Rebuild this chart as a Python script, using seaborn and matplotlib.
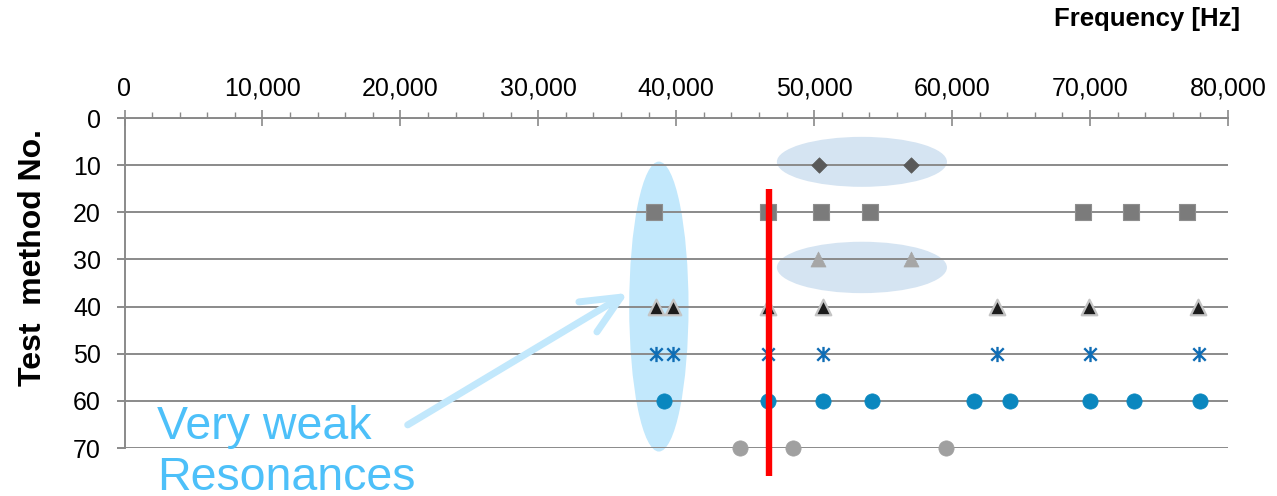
import numpy as np
import pandas as pd
import matplotlib
matplotlib.use("Agg")
import matplotlib.pyplot as plt
from matplotlib.patches import Ellipse
from matplotlib.path import Path
import seaborn as sns

# ---- data: resonance frequencies [Hz] found by each test method ----
method_10 = [50360, 57010]
method_20 = [38400, 46640, 50510, 54020, 69510, 72990, 77010]
method_30 = [50290, 57010]
method_40 = [38540, 39750, 46640, 50630, 63270, 69940, 77820]
method_50 = [38540, 39750, 46660, 50630, 63270, 70010, 77920]
method_60 = [39120, 46660, 50630, 54180, 61600, 64180, 69980, 73210, 77990]
method_70 = [44630, 48480, 59550]

method_ids = [10, 20, 30, 40, 50, 60, 70]
x_ticks = [0, 10000, 20000, 30000, 40000, 50000, 60000, 70000, 80000]
y_ticks = [0, 10, 20, 30, 40, 50, 60, 70]

# reference frequency marker
ref_freq = 46700
ref_span = [15, 76]

# highlighted groups: (center freq, center method, width Hz, height)
weak_group = (38740, 40.0, 4300, 61.5)
pair_groups = [(53460, 9.3, 12330, 10.6), (53460, 31.7, 12330, 10.9)]

# arrow from annotation toward the weak group
arrow_start = (20530, 65.1)
arrow_end = (36500, 37.1)
note_pos = (2360, 78.9)

rows = []
for mid, vals in zip(method_ids, [method_10, method_20, method_30, method_40,
                                  method_50, method_60, method_70]):
    for v in vals:
        rows.append({"method": mid, "freq": v})
df = pd.DataFrame(rows)

sns.set_theme(style="white")
plt.rcParams["font.family"] = ["Liberation Sans", "DejaVu Sans"]
plt.rcParams["text.color"] = "black"
plt.rcParams["xtick.labelcolor"] = "black"
plt.rcParams["ytick.labelcolor"] = "black"

fig = plt.figure(figsize=(12.77, 4.96), dpi=100)
ax = fig.add_axes([124.5 / 1277, 1 - 448 / 496, (1228 - 124.5) / 1277, (448 - 118) / 496])

grid_c = "#8a8a8a"

# asterisk marker: vertical bar plus an X
ast = Path([(0, 0.55), (0, -0.55), (-0.45, 0.45), (0.45, -0.45), (-0.45, -0.45), (0.45, 0.45)],
           [Path.MOVETO, Path.LINETO, Path.MOVETO, Path.LINETO, Path.MOVETO, Path.LINETO])

styles = {
    10: dict(marker="D", s=62, color="#595959", edgecolor="#595959", linewidth=0.5),
    20: dict(marker="s", s=120, color="#7b7b7b", edgecolor="#8e8e8e", linewidth=0.8),
    30: dict(marker="^", s=117, color="#a6a6a6", edgecolor="#a6a6a6", linewidth=0.5),
    40: dict(marker="^", s=125, color="#1c1c1c", edgecolor="#c4c4c4", linewidth=1.6),
    50: dict(marker=ast, s=120, color="#0f6db5", edgecolor="#0f6db5", linewidth=1.7),
    60: dict(marker="o", s=121, color="#0a87bf", edgecolor="#0a87bf", linewidth=0.5),
    70: dict(marker="o", s=121, color="#a0a0a0", edgecolor="#a0a0a0", linewidth=0.5),
}

# background highlight ellipses (behind the grid)
cx, cy, w, h = weak_group
ax.add_patch(Ellipse((cx, cy), w, h, facecolor="#c2e8fc", edgecolor="none",
                     zorder=0.2, clip_on=False))
for cx, cy, w, h in pair_groups:
    ax.add_patch(Ellipse((cx, cy), w, h, facecolor="#d5e4f2", edgecolor="none",
                         zorder=0.2, clip_on=False))

for mid in method_ids:
    sub = df[df["method"] == mid]
    st = styles[mid]
    sns.scatterplot(data=sub, x="freq", y="method", ax=ax, marker=st["marker"],
                    s=st["s"], color=st["color"], edgecolor=st["edgecolor"],
                    linewidth=st["linewidth"], zorder=3, clip_on=False, legend=False)

# reference frequency line
ax.plot([ref_freq, ref_freq], ref_span, color="#ff0000", lw=4.6, zorder=6,
        clip_on=False, solid_capstyle="butt")

ax.set_xlim(0, 80000)
ax.set_ylim(70, 0)
ax.set_axisbelow(True)
ax.xaxis.tick_top()
ax.set_xticks(x_ticks)
ax.set_xticklabels([f"{t:,}" for t in x_ticks])
ax.set_xticks(np.arange(0, 80001, 2000), minor=True)
ax.set_yticks(y_ticks)
ax.set_yticklabels([str(t) for t in y_ticks])

ax.grid(axis="y", color=grid_c, lw=1.4)
ax.grid(axis="x", visible=False)
for side in ["right", "bottom"]:
    ax.spines[side].set_visible(False)
for side in ["top", "left"]:
    ax.spines[side].set_color(grid_c)
    ax.spines[side].set_linewidth(1.4)

ax.tick_params(axis="x", which="major", direction="inout", length=11, width=1.2,
               color=grid_c, labelsize=18, pad=7, top=True, bottom=False,
               labelcolor="black")
ax.tick_params(axis="x", which="minor", direction="out", length=4.3, width=1.0,
               color=grid_c, top=True, bottom=False)
ax.tick_params(axis="y", which="major", direction="out", length=6, width=1.4,
               color=grid_c, labelsize=18, pad=11, left=True, labelcolor="black")
ax.set_xlabel("")
ax.set_ylabel("")

# annotation
ax.annotate("", xy=arrow_end, xytext=arrow_start,
            arrowprops=dict(arrowstyle="->,head_length=2.3,head_width=1.05",
                            lw=5, color="#c2e8fc", shrinkA=0, shrinkB=0),
            annotation_clip=False, zorder=4)
ax.text(note_pos[0], note_pos[1], "Very weak\nResonances", color="#4dc0f9",
        fontsize=33.5, ha="left", va="baseline", zorder=5, clip_on=False,
        linespacing=1.2)

fig.text(1240 / 1277, 1 - 19 / 496, "Frequency [Hz]", fontsize=18.5, fontweight="bold",
         ha="right", va="center", color="black")
fig.text(33 / 1277, 1 - 257 / 496, "Test  method No.", fontsize=23, fontweight="bold",
         rotation=90, ha="center", va="center", color="black")

fig.savefig("out.png", dpi=100)
